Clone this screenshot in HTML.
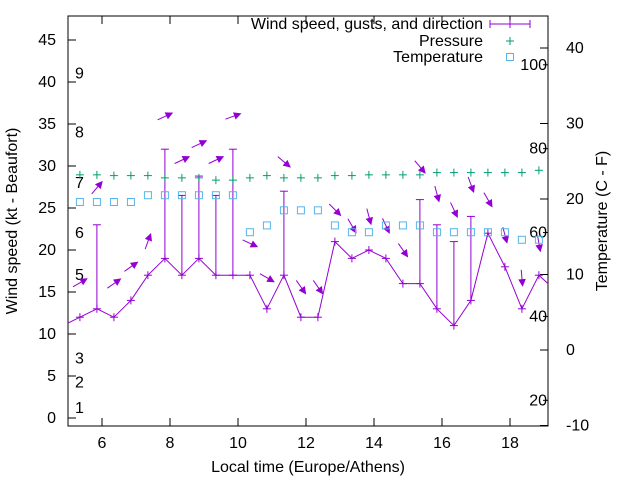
<!DOCTYPE html>
<html><head><meta charset="utf-8"><style>
body{margin:0;background:#fff}
svg{display:block;font-family:"Liberation Sans",sans-serif}
</style></head><body>
<svg id="chart" width="640" height="480" viewBox="0 0 640 480"></svg>
<script>
const times=[];for(let i=0;i<28;i++)times.push(5.35+0.5*i);
const wind=[12,13,12,14,17,19,17,19,17,17,17,13,17,12,12,21,19,20,19,16,16,13,11,14,22,18,13,17];
const gusts=[null,23,null,null,null,32,26.5,28.8,26.5,32,null,null,27,null,null,null,null,null,null,null,26,23,21,24,null,null,null,null];
const arrowPos=[16.1,27.4,16,18,21,35.9,30.7,32.6,30.7,35.9,20.8,16.7,30.5,15.6,15.6,24.8,22.9,24,22.9,20,29.9,26.7,24.8,27.8,26,21.8,16.7,20.8];
const heading=[60,40,55,55,20,65,65,65,65,70,115,120,130,145,145,135,150,165,155,145,140,165,155,160,150,165,175,170];
const pressure=[23.2,23.2,23.1,23.1,23.1,22.8,22.8,22.8,22.5,22.5,22.8,23.1,22.8,22.8,22.8,23.1,23.1,23.2,23.2,23.2,23.2,23.5,23.5,23.5,23.5,23.5,23.5,23.8];
const temperature=[19.6,19.6,19.6,19.6,20.5,20.5,20.5,20.5,20.5,20.5,15.6,16.5,18.5,18.5,18.5,16.5,15.6,15.6,16.5,16.5,16.5,15.6,15.6,15.6,15.6,15.6,14.6,14.6];
const xTicks=[6,8,10,12,14,16,18];
const yTicks=[0,5,10,15,20,25,30,35,40,45];
const y2Ticks=[-10,0,10,20,30,40];
const beaufort=[1,2,3,5,6,7,8,9];
const beaufortY=[1.2,4.2,7.1,17,22,28,34,41];
const fTicks=[20,40,60,80,100];

const L=68,R=548,T=16,B=426;
const X=t=>L+(t-5)*34;
const Y=v=>418-v*8.4;
const Y2=c=>350-c*7.55;
const svg=document.getElementById('chart');
const NS='http://www.w3.org/2000/svg';
function mk(tag,attrs,parent){const e=document.createElementNS(NS,tag);for(const k in attrs)e.setAttribute(k,attrs[k]);(parent||svg).appendChild(e);return e;}
function txt(x,y,s,anchor,extra){const e=mk('text',Object.assign({x:x,y:y,'font-size':16,'text-anchor':anchor||'middle',fill:'#000'},extra||{}));e.textContent=s;return e;}

const frame=mk('rect',{x:L,y:T,width:R-L,height:B-T,fill:'none',stroke:'#000','stroke-width':1});


xTicks.forEach(t=>{
  mk('line',{x1:X(t),x2:X(t),y1:B,y2:B-8,stroke:'#000'});
  mk('line',{x1:X(t),x2:X(t),y1:T,y2:T+8,stroke:'#000'});
  const e=txt(X(t),448,String(t));
  
  
});
yTicks.forEach(v=>{
  mk('line',{x1:L,x2:L+8,y1:Y(v),y2:Y(v),stroke:'#000'});
  const e=txt(56,Y(v)+5,String(v),'end');
  
  
});
y2Ticks.forEach(c=>{
  mk('line',{x1:R,x2:R-8,y1:Y2(c),y2:Y2(c),stroke:'#000'});
  const e=txt(566,Y2(c)+5,String(c),'start');
  
  
});
beaufort.forEach((b,i)=>{
  const e=txt(75,Y(beaufortY[i])+5,String(b),'start');
  
  
});
fTicks.forEach(f=>{
  const c=(f-32)*5/9;
  mk('line',{x1:R,x2:R-5,y1:Y2(c),y2:Y2(c),stroke:'#000'});
  const e=txt(R-1,Y2(c)+5,String(f),'end');
  
  
});

const P='#9400d3',G='#009e73',C='#56b4e9';
let d='M'+L+','+Y(11.3);
times.forEach((t,i)=>{d+=' L'+X(t)+','+Y(wind[i]);});
d+=' L'+R+','+Y(16);
const wl=mk('path',{d:d,fill:'none',stroke:P,'stroke-width':1});


times.forEach((t,i)=>{
  const x=X(t),y=Y(wind[i]);
  const g=mk('g',{stroke:P,'stroke-width':1});
  
  
  mk('line',{x1:x-4,x2:x+4,y1:y,y2:y},g);mk('line',{x1:x,x2:x,y1:y-4,y2:y+4},g);
  if(gusts[i]!=null){const gy=Y(gusts[i]);mk('line',{x1:x,x2:x,y1:y,y2:gy},g);mk('line',{x1:x-4,x2:x+4,y1:gy,y2:gy},g);}
  const a=heading[i]*Math.PI/180, dx=Math.sin(a)*16, dy=-Math.cos(a)*16;
  const cx=x,cy=Y(arrowPos[i]);
  const x1=cx-dx/2,y1=cy-dy/2,x2=cx+dx/2,y2=cy+dy/2;
  const ar=mk('g',{});
  
  
  mk('line',{x1:x1,y1:y1,x2:x2,y2:y2,stroke:P},ar);
  const ux=dx/16,uy=dy/16,px=-uy,py=ux;
  const hx=x2-ux*6,hy=y2-uy*6;
  mk('polygon',{points:`${x2},${y2} ${hx+px*3},${hy+py*3} ${hx-px*3},${hy-py*3}`,fill:P,stroke:P},ar);
});
times.forEach((t,i)=>{
  const x=X(t),y=Y2(pressure[i]);
  const g=mk('g',{stroke:G});
  
  
  mk('line',{x1:x-4,x2:x+4,y1:y,y2:y},g);mk('line',{x1:x,x2:x,y1:y-4,y2:y+4},g);
  const r=mk('rect',{x:x-3.5,y:Y2(temperature[i])-3.5,width:7,height:7,fill:'none',stroke:C});
  
  
});
const lg=mk('g',{});


txt(483,29,'Wind speed, gusts, and direction','end');
mk('line',{x1:490,x2:530,y1:24,y2:24,stroke:P},lg);
mk('line',{x1:490,x2:490,y1:20,y2:28,stroke:P},lg);
mk('line',{x1:530,x2:530,y1:20,y2:28,stroke:P},lg);
mk('line',{x1:510,x2:510,y1:20,y2:28,stroke:P},lg);
txt(483,46,'Pressure','end');
mk('line',{x1:506,x2:514,y1:41,y2:41,stroke:G},lg);mk('line',{x1:510,x2:510,y1:37,y2:45,stroke:G},lg);
txt(483,62,'Temperature','end');
mk('rect',{x:506.5,y:53.5,width:7,height:7,fill:'none',stroke:C},lg);
const xt=txt(308,472,'Local time (Europe/Athens)');


const yt=txt(0,0,'Wind speed (kt - Beaufort)','middle',{transform:'translate(17,221) rotate(-90)'});


const y2t=txt(0,0,'Temperature (C - F)','middle',{transform:'translate(607,221) rotate(-90)'});


</script>
</body></html>
